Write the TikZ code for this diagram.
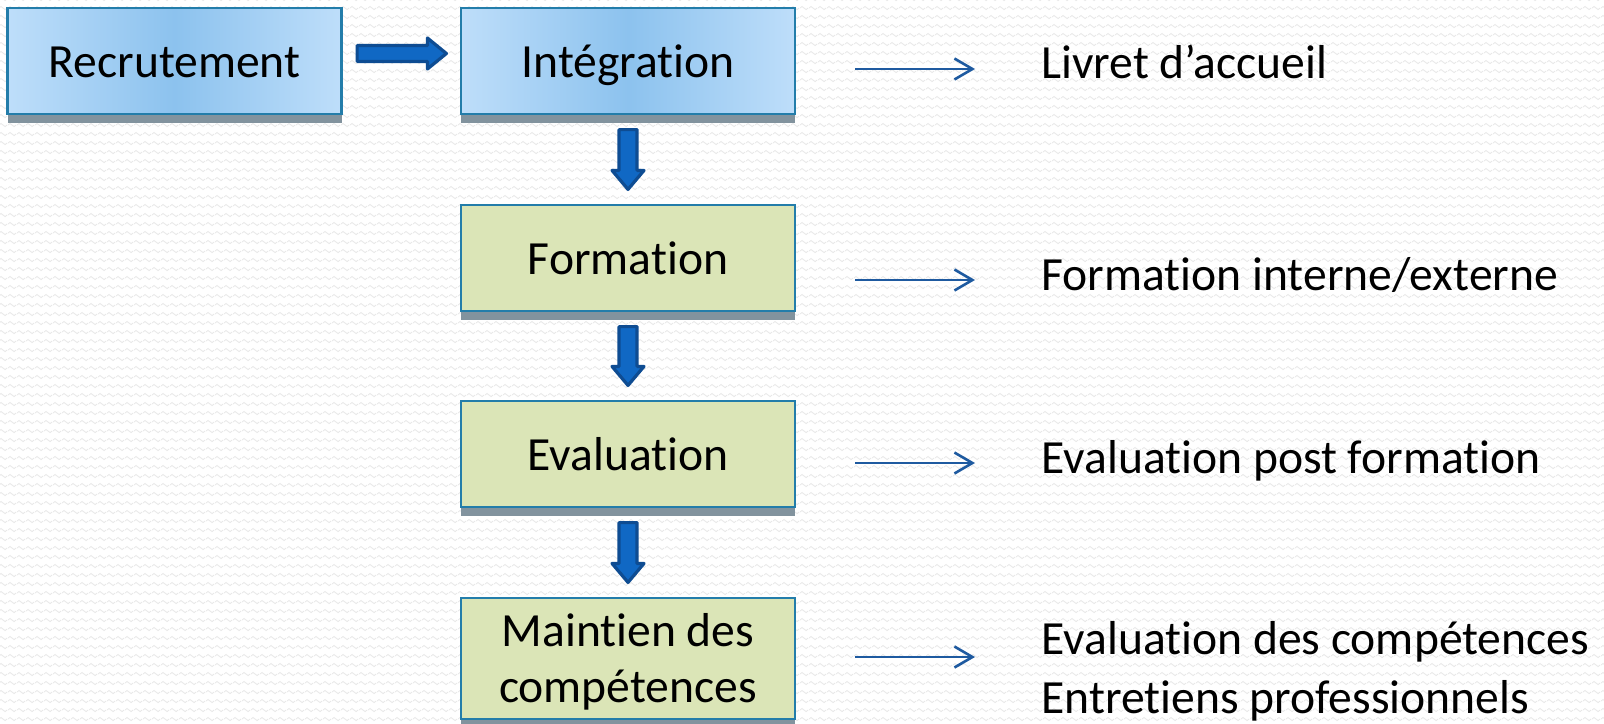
\documentclass[tikz,border=0pt]{standalone}
\usepackage{fontspec}
\setmainfont{Carlito}[Ligatures=NoCommon]
\usetikzlibrary{calc,shadows,arrows.meta,patterns}
\definecolor{bgwave}{RGB}{232,232,232}
\definecolor{boxborder}{RGB}{35,125,170}
\definecolor{blueedge}{RGB}{190,222,250}
\definecolor{bluemid}{RGB}{140,194,238}
\definecolor{greenfill}{RGB}{219,229,183}
\definecolor{shadowgray}{RGB}{130,147,158}
\definecolor{arrowfill}{RGB}{16,104,196}
\definecolor{arrowdraw}{RGB}{14,76,146}
\definecolor{thinblue}{RGB}{30,90,160}
\pgfdeclarepatternformonly{bgwaves}{\pgfpoint{0pt}{0pt}}{\pgfpoint{4.5pt}{4.25pt}}{\pgfpoint{4.5pt}{4.25pt}}{%
  \pgfsetlinewidth{0.45pt}%
  \pgfpathmoveto{\pgfpoint{0pt}{2.1pt}}%
  \pgfpathsine{\pgfpoint{1.125pt}{0.8pt}}%
  \pgfpathcosine{\pgfpoint{1.125pt}{-0.8pt}}%
  \pgfpathsine{\pgfpoint{1.125pt}{-0.8pt}}%
  \pgfpathcosine{\pgfpoint{1.125pt}{0.8pt}}%
  \pgfusepath{stroke}}
\begin{document}
\begin{tikzpicture}[x=0.5pt,y=-0.5pt,
  boxbase/.style={draw=boxborder, line width=1.1pt, inner sep=0pt,
    minimum width=167pt, minimum height=53pt, text height=16.7pt, text depth=0pt,
    font=\fontsize{23.8pt}{28pt}\selectfont,
    general shadow={fill=shadowgray, shadow yshift=-4.5pt}},
  bluebox/.style={boxbase, left color=blueedge, right color=blueedge, middle color=bluemid},
  greenbox/.style={boxbase, fill=greenfill},
  blockarrow/.style={fill=arrowfill, draw=arrowdraw, line width=1.6pt, line join=round},
  thinarrow/.style={draw=thinblue, line width=1.3pt, -{Straight Barb[length=9pt,width=10.5pt,line width=1.3pt]}},
  side/.style={anchor=base west, inner sep=0pt, align=left, font=\fontsize{23.8pt}{28.5pt}\selectfont}]
\fill[white] (0,0) rectangle (1604,723);
\fill[pattern=bgwaves, pattern color=bgwave] (0,0) rectangle (1604,723);
\useasboundingbox (0,0) rectangle (1604,723);

\node[bluebox] (rec) at (174.5,61) {Recrutement};
\node[bluebox] (int) at (628,61) {Intégration};
\node[greenbox] (form) at (628,258) {Formation};
\node[greenbox] (eval) at (628,454) {Evaluation};
\node[greenbox, minimum height=60.5pt, text height=43.5pt, text depth=0pt, align=center] (maint) at (628,658.5) {Maintien des\\compétences};

% horizontal block arrow
\path[blockarrow] let \p1=($(rec.east)+(14.5,-7.5)$), \p2=($(int.west)+(-13.5,-7.5)$) in
  (\x1,\y1+4pt) -- (\x2-9.5pt,\y1+4pt) -- (\x2-9.5pt,\y1+7.75pt) -- (\x2,\y1)
  -- (\x2-9.5pt,\y1-7.75pt) -- (\x2-9.5pt,\y1-4pt) -- (\x1,\y1-4pt) -- cycle;

% vertical block arrows
\path[blockarrow] let \p1=($(int.south)+(0,14.5)$), \p2=($(form.north)+(0,-14.5)$) in
  (\x1-4.5pt,\y1) -- (\x1+4.5pt,\y1) -- (\x1+4.5pt,\y2+9.5pt) -- (\x1+8pt,\y2+9.5pt)
  -- (\x1,\y2) -- (\x1-8pt,\y2+9.5pt) -- (\x1-4.5pt,\y2+9.5pt) -- cycle;
\path[blockarrow] let \p1=($(form.south)+(0,14.5)$), \p2=($(eval.north)+(0,-14.5)$) in
  (\x1-4.5pt,\y1) -- (\x1+4.5pt,\y1) -- (\x1+4.5pt,\y2+9.5pt) -- (\x1+8pt,\y2+9.5pt)
  -- (\x1,\y2) -- (\x1-8pt,\y2+9.5pt) -- (\x1-4.5pt,\y2+9.5pt) -- cycle;
\path[blockarrow] let \p1=($(eval.south)+(0,14.5)$), \p2=($(maint.north)+(0,-14.5)$) in
  (\x1-4.5pt,\y1) -- (\x1+4.5pt,\y1) -- (\x1+4.5pt,\y2+9.5pt) -- (\x1+8pt,\y2+9.5pt)
  -- (\x1,\y2) -- (\x1-8pt,\y2+9.5pt) -- (\x1-4.5pt,\y2+9.5pt) -- cycle;

% side texts
\node[side] (t1) at (1041,78) {Livret d’accueil};
\node[side] (t2) at (1041,290) {Formation interne/externe};
\node[side] (t3) at (1041,473) {Evaluation post formation};
\node[side] (t4) at (1041,713) {Evaluation des compétences\\[1pt]Entretiens professionnels};

% thin arrows
\coordinate (s1) at (855,69);  \coordinate (e1) at (975,69);
\coordinate (s2) at (855,280); \coordinate (e2) at (975,280);
\coordinate (s3) at (855,463); \coordinate (e3) at (975,463);
\coordinate (s4) at (855,657); \coordinate (e4) at (975,657);
\draw[thinarrow] (s1) -- (e1);
\draw[thinarrow] (s2) -- (e2);
\draw[thinarrow] (s3) -- (e3);
\draw[thinarrow] (s4) -- (e4);
\end{tikzpicture}
\end{document}
